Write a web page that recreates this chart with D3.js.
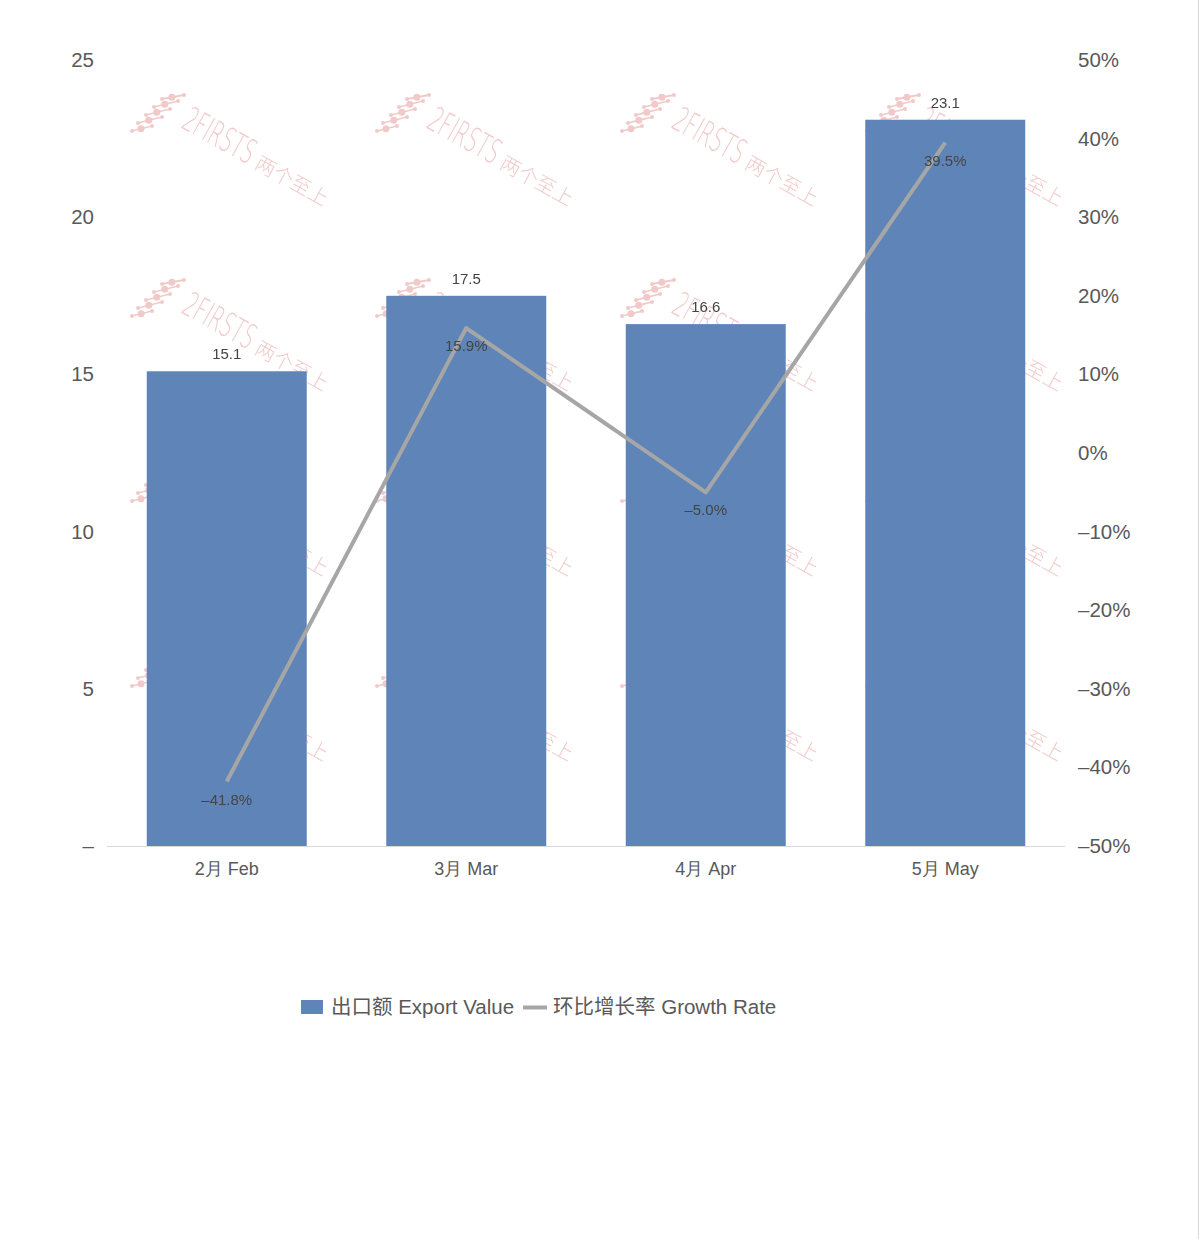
<!DOCTYPE html>
<html><head><meta charset="utf-8">
<script src="https://cdn.jsdelivr.net/npm/d3@7"></script>
<style>
body{margin:0;background:#fff;}
svg{display:block;font-family:"Helvetica Neue",Helvetica,Arial,"Liberation Sans","Noto Sans CJK SC",sans-serif;}
</style></head>
<body>
<svg id="c" width="1200" height="1239"></svg>
<script>
const categories = ["2月 Feb","3月 Mar","4月 Apr","5月 May"];
const exportValue = [15.1,17.5,16.6,23.1];
const growthRate = [-41.8,15.9,-5.0,39.5];
const leftTicks = [0,5,10,15,20,25];
const rightTicks = [-50,-40,-30,-20,-10,0,10,20,30,40,50];
const seriesNames = ["出口额 Export Value","环比增长率 Growth Rate"];

const svg = d3.select("#c");
const W=1200,H=1239;
svg.append("rect").attr("width",W).attr("height",H).attr("fill","#fff");
svg.append("line").attr("x1",1198.5).attr("x2",1198.5).attr("y1",0).attr("y2",H).attr("stroke","#d9d9d9").attr("stroke-width",1);

const x = d3.scaleBand().domain(categories).range([107,1065]).paddingInner(0.332).paddingOuter(0.166);
const yL = d3.scaleLinear().domain([0,25]).range([846,60]);
const yR = d3.scaleLinear().domain([-50,50]).range([846,60]);

// watermarks
const wm = svg.append("g").attr("opacity",0.8);
const wcols=[130,375,620,865], wrows=[95,280,465,650];
function logo(g){
  const c="#eebcbc";
  const rays=[[2,36,22,31],[8,28,32,22],[16,20,40,14],[24,12,48,6],[32,4,54,0]];
  rays.forEach((r,i)=>{
    g.append("line").attr("x1",r[0]).attr("y1",r[1]).attr("x2",r[2]).attr("y2",r[3]).attr("stroke",c).attr("stroke-width",1.8);
    g.append("circle").attr("cx",r[0]).attr("cy",r[1]).attr("r",2).attr("fill",c);
    g.append("circle").attr("cx",r[2]).attr("cy",r[3]).attr("r",2).attr("fill",c);
    g.append("circle").attr("cx",r[0]+(r[2]-r[0])*0.45).attr("cy",r[1]+(r[3]-r[1])*0.45).attr("r",3.5).attr("fill",c);
  });
  const t=g.append("g").attr("transform","translate(50,32) rotate(29)");
  t.append("text").attr("x",0).attr("y",0).attr("font-size",34).attr("font-weight",200)
    .attr("fill",c).attr("transform","scale(0.56,1)").attr("font-family","'DejaVu Sans',sans-serif").text("2FIRSTS");
  t.append("text").attr("x",84).attr("y",0).attr("font-size",20).attr("font-weight",300)
    .attr("fill",c).attr("font-family","'Noto Sans CJK SC',sans-serif").text("两个至上");
}
wrows.forEach(ry=>wcols.forEach(cx=>{
  const g=wm.append("g").attr("transform",`translate(${cx},${ry})`);
  logo(g);
}));

// baseline
svg.append("line").attr("x1",107).attr("x2",1065).attr("y1",846.5).attr("y2",846.5).attr("stroke","#d9d9d9").attr("stroke-width",1);

// bars
svg.append("g").selectAll("rect").data(exportValue).join("rect")
  .attr("x",(d,i)=>x(categories[i])).attr("width",x.bandwidth())
  .attr("y",d=>yL(d)).attr("height",d=>yL(0)-yL(d)).attr("fill","#5f85b8");

// line
const line=d3.line().x((d,i)=>x(categories[i])+x.bandwidth()/2).y(d=>yR(d));
svg.append("path").datum(growthRate).attr("d",line).attr("fill","none").attr("stroke","#a6a6a6").attr("stroke-width",4).attr("stroke-linejoin","round");

// bar labels
svg.append("g").selectAll("text").data(exportValue).join("text")
  .attr("x",(d,i)=>x(categories[i])+x.bandwidth()/2).attr("y",d=>yL(d)-12)
  .attr("text-anchor","middle").attr("font-size",15).attr("fill","#444").text(d=>d.toFixed(1));

// line labels
const fmtP=d=>(d<0?"–"+Math.abs(d).toFixed(1):d.toFixed(1))+"%";
svg.append("g").selectAll("text").data(growthRate).join("text")
  .attr("x",(d,i)=>x(categories[i])+x.bandwidth()/2).attr("y",d=>yR(d)+23)
  .attr("text-anchor","middle").attr("font-size",15).attr("fill","#444").text(fmtP);

// left axis
const axL=d3.axisLeft(yL).tickValues(leftTicks).tickSize(0).tickPadding(0).tickFormat(d=>d===0?"–":d);
const gL=svg.append("g").attr("transform","translate(94,0)").call(axL);
gL.select(".domain").remove();
gL.selectAll("text").attr("font-size",20.5).attr("fill","#595959").attr("font-family","inherit");

// right axis
const axR=d3.axisRight(yR).tickValues(rightTicks).tickSize(0).tickPadding(0).tickFormat(d=>(d<0?"–"+Math.abs(d):d)+"%");
const gR=svg.append("g").attr("transform","translate(1078,0)").call(axR);
gR.select(".domain").remove();
gR.selectAll("text").attr("font-size",20.5).attr("fill","#595959").attr("font-family","inherit");

// x axis
const axX=d3.axisBottom(x).tickSize(0).tickPadding(0);
const gX=svg.append("g").attr("transform","translate(0,875)").call(axX);
gX.select(".domain").remove();
gX.selectAll("text").attr("font-size",18).attr("fill","#595959").attr("font-family","inherit").attr("dy","0");

// legend
const lg=svg.append("g").attr("font-size",20.5).attr("fill","#595959");
lg.append("rect").attr("x",301).attr("y",1000).attr("width",22).attr("height",14).attr("fill","#5f85b8");
lg.append("text").attr("x",331).attr("y",1014).text(seriesNames[0]);
lg.append("line").attr("x1",523).attr("x2",547).attr("y1",1007.5).attr("y2",1007.5).attr("stroke","#a6a6a6").attr("stroke-width",4);
lg.append("text").attr("x",553).attr("y",1014).text(seriesNames[1]);
</script>
</body></html>
